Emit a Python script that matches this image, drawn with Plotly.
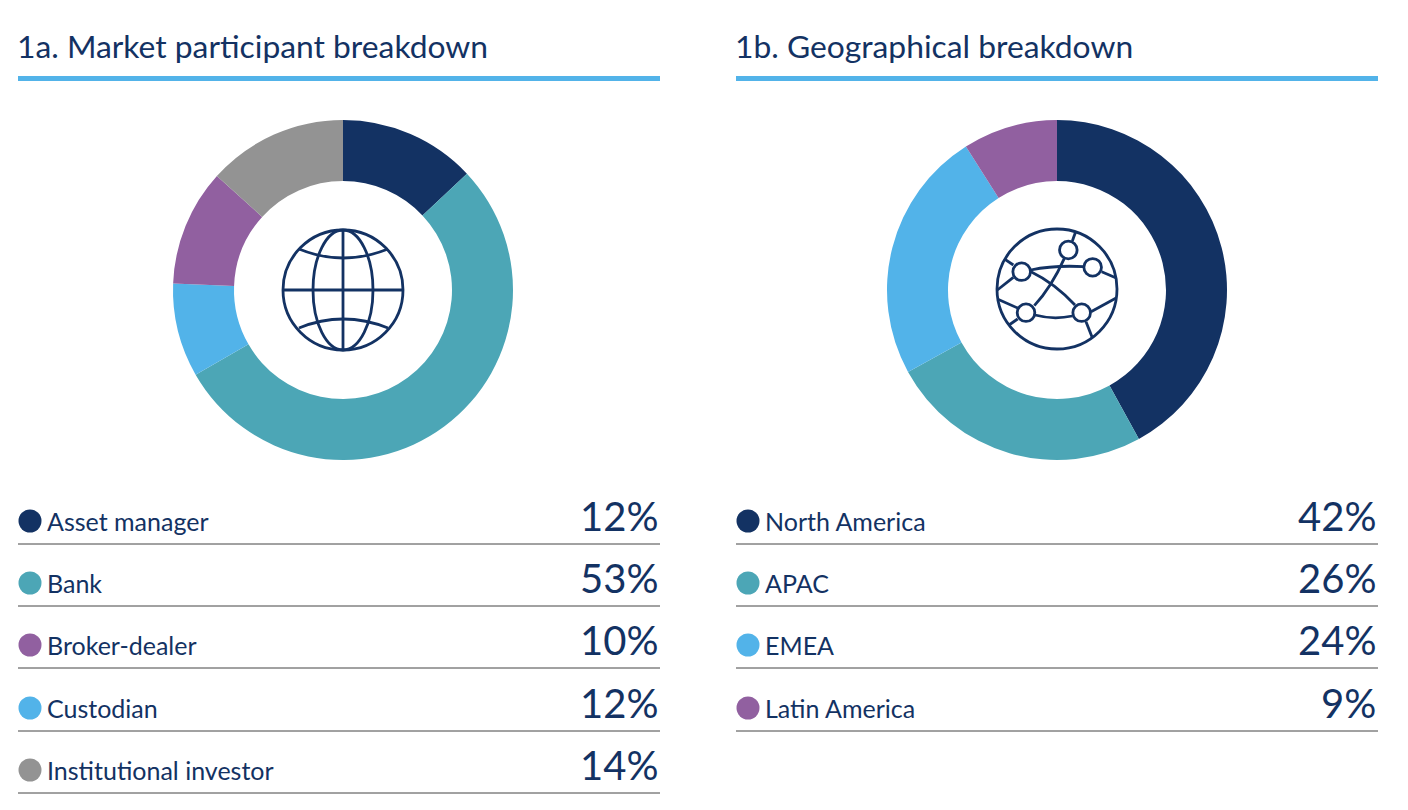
import plotly.graph_objects as go

W, H = 1408, 810

titles = ["1a. Market participant breakdown", "1b. Geographical breakdown"]

# Left panel
left_labels = ["Asset manager", "Bank", "Broker-dealer", "Custodian", "Institutional investor"]
left_pct = ["12%", "53%", "10%", "12%", "14%"]
# ring slices as drawn, clockwise
left_ring_labels = ["Asset manager", "Bank", "Custodian", "Broker-dealer", "Institutional investor"]
left_ring_values = [13, 53.7, 8.9, 11.1, 13.3]

# Right panel
right_labels = ["North America", "APAC", "EMEA", "Latin America"]
right_pct = ["42%", "26%", "24%", "9%"]
right_ring_values = [42, 25, 24, 9]

NAVY, TEAL, SKY, PURPLE, GREY = "#133263", "#4CA6B6", "#52B3E9", "#9160A0", "#939393"
left_colors = [NAVY, TEAL, PURPLE, SKY, GREY]
left_ring_colors = [NAVY, TEAL, SKY, PURPLE, GREY]
right_colors = [NAVY, TEAL, SKY, PURPLE]

FONT = "Lato, 'Open Sans', sans-serif"
ICON_W = 2.8

def px(x):
    return x / W

def py(y):
    return 1 - y / H

def pt(x, y):
    return f"{px(x):.5f},{py(y):.5f}"

shapes, notes = [], []

def rect(x0, y0, x1, y1, color):
    shapes.append(dict(type="rect", xref="paper", yref="paper", x0=px(x0), x1=px(x1),
                       y0=py(y1), y1=py(y0), fillcolor=color, line_width=0, layer="above"))

def line(x0, y0, x1, y1, color=NAVY, width=ICON_W):
    shapes.append(dict(type="line", xref="paper", yref="paper", x0=px(x0), x1=px(x1),
                       y0=py(y0), y1=py(y1), line=dict(color=color, width=width), layer="above"))

def circle(cx, cy, rx, ry=None, fill="rgba(0,0,0,0)", color=NAVY, width=ICON_W):
    ry = rx if ry is None else ry
    shapes.append(dict(type="circle", xref="paper", yref="paper", x0=px(cx - rx), x1=px(cx + rx),
                       y0=py(cy + ry), y1=py(cy - ry), fillcolor=fill,
                       line=dict(color=color, width=width), layer="above"))

def quad(a, c, b, color=NAVY, width=ICON_W):
    shapes.append(dict(type="path", xref="paper", yref="paper",
                       path=f"M{pt(*a)} Q{pt(*c)} {pt(*b)}",
                       line=dict(color=color, width=width), layer="above"))

def text(x, y, s, size, anchor="left", weight=400):
    notes.append(dict(xref="paper", yref="paper", x=px(x), y=py(y), text=s, showarrow=False,
                      xanchor=anchor, yanchor="middle", borderpad=0, borderwidth=0,
                      font=dict(family=FONT, size=size, color=NAVY, weight=weight)))

ROWS = [521, 583, 645, 708, 770]
RULES = [544, 606, 668, 731, 793]

def panel(x0, title, labels, pcts, colors):
    x1 = x0 + 642
    text(x0 - 1, 46, title, 31.8)
    rect(x0, 76, x1, 81, SKY)
    for i, (lab, pct, col) in enumerate(zip(labels, pcts, colors)):
        circle(x0 + 12, ROWS[i], 11.5, fill=col, color=col, width=0)
        text(x0 + 29, ROWS[i] - 0.5, lab, 25)
        text(x1 - 2, ROWS[i] - 5, pct, 40, anchor="right", weight=400)
        line(x0, RULES[i], x1, RULES[i], color="#444444", width=1)

panel(18, titles[0], left_labels, left_pct, left_colors)
panel(736, titles[1], right_labels, right_pct, right_colors)

# Globe icon
gx, gy = 343, 290
circle(gx, gy, 60)
circle(gx, gy, 30, 60)
line(gx, gy - 60, gx, gy + 60)
line(gx - 60, gy, gx + 60, gy)
quad((299, 249), (343, 267), (388, 249))
quad((299, 328), (343, 310), (388, 328))

# Network icon
def Z(x, y):
    return (985 + x / 3, 215 + y / 3)

circle(1057, 289, 60)
for a, b in [((262, 78), (272, 50)), ((85, 150), (60, 133)), ((85, 187), (37, 225)),
             ((350, 170), (392, 188)), ((100, 280), (37, 252)), ((98, 312), (72, 330)),
             ((318, 290), (392, 250)), ((303, 320), (322, 368))]:
    line(*Z(*a), *Z(*b))
quad(Z(238, 130), Z(200, 215), Z(148, 272))
quad(Z(138, 170), Z(210, 205), Z(270, 270))
quad(Z(137, 165), Z(210, 150), Z(296, 155))
quad(Z(150, 300), Z(205, 315), Z(262, 303))
for n in [(250, 105), (110, 170), (323, 157), (123, 293), (290, 293)]:
    circle(*Z(*n), 8.8, fill="white")

def ring(labels, values, colors, cx):
    return go.Pie(labels=labels, values=values, sort=False, direction="clockwise", rotation=0,
                  hole=109 / 170, textinfo="none", showlegend=False, hoverinfo="label+value",
                  marker=dict(colors=colors, line=dict(width=0)),
                  domain=dict(x=[px(cx - 170), px(cx + 170)], y=[py(460), py(120)]))

fig = go.Figure([ring(left_ring_labels, left_ring_values, left_ring_colors, 343),
                 ring(right_labels, right_ring_values, right_colors, 1057)])
fig.update_layout(width=W, height=H, autosize=False, margin=dict(l=0, r=0, t=0, b=0),
                  paper_bgcolor="white", plot_bgcolor="white", showlegend=False,
                  shapes=shapes, annotations=notes)
fig.write_html("out.html", config=dict(displayModeBar=False),
               post_script="document.body.style.margin='0';document.body.style.overflow='hidden';")
